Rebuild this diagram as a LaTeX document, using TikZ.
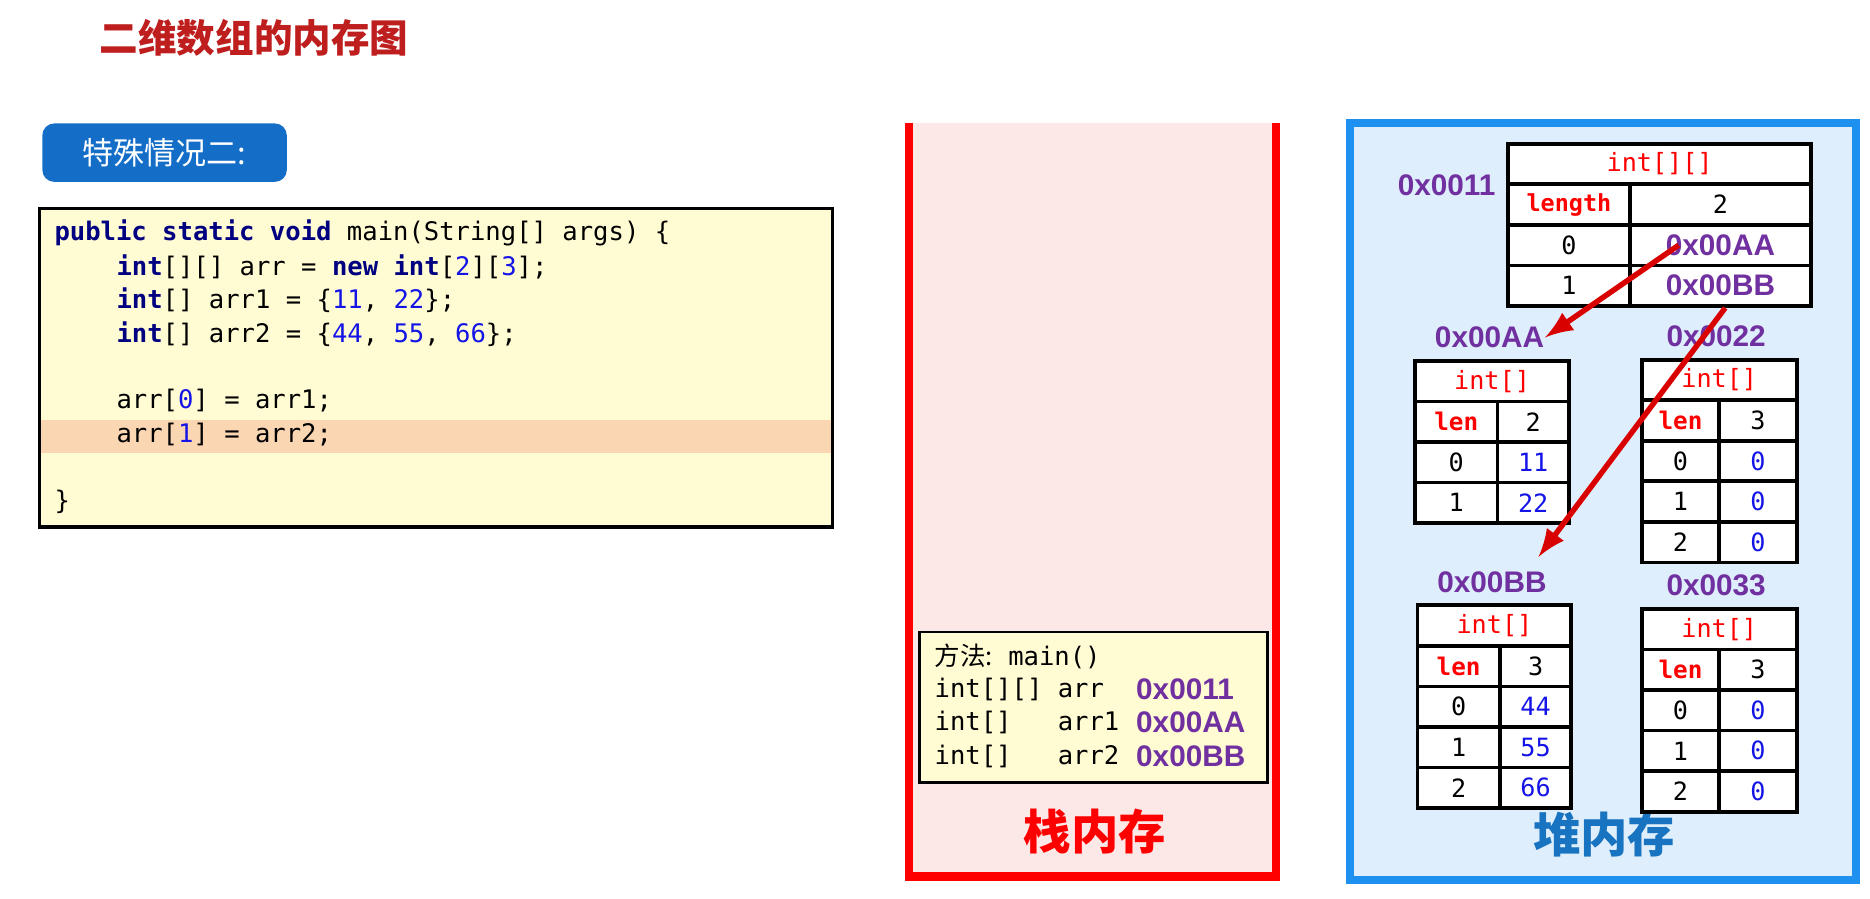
\documentclass[tikz,border=0pt]{standalone}
\usepackage{fontspec}
\setmainfont{Liberation Sans}
\setmonofont{DejaVu Sans Mono}
\newfontfamily\cjk{Noto Sans CJK SC}
\usetikzlibrary{positioning}
\definecolor{kwblue}{RGB}{0,0,128}
\definecolor{numblue}{RGB}{20,20,230}
\definecolor{addr}{RGB}{112,48,160}
\definecolor{darkred}{RGB}{190,30,30}
\definecolor{codebg}{RGB}{255,252,212}
\definecolor{hlbg}{RGB}{250,214,178}
\definecolor{stackbg}{RGB}{253,232,232}
\definecolor{heapbg}{RGB}{223,238,252}
\definecolor{heapline}{RGB}{30,144,240}
\definecolor{tagblue}{RGB}{20,110,200}
\newcommand{\kw}[1]{\textbf{\color{kwblue}#1}}
\newcommand{\nm}[1]{{\color{numblue}#1}}
\tikzset{
  codeline/.style={anchor=west, inner sep=0, font=\fontsize{6.1}{7}\ttfamily},
  cell/.style={draw, line width=0.9pt, fill=white, anchor=north west, inner sep=0,
    minimum height=3.4mm, font=\fontsize{6}{7}\ttfamily},
  addrlabel/.style={font=\fontsize{7.1}{8}\bfseries, text=addr, inner sep=0},
  ref/.style={-latex, red!85!black, line width=1.3pt}
}
\begin{document}
\begin{tikzpicture}[x=0.1mm, y=-0.1mm]
\useasboundingbox (0,0) rectangle (1568,753);
% title
\node (title) at (213,32) {\cjk\fontsize{9.2}{10}\selectfont\bfseries\color{darkred}二维数组的内存图};
\node (tag) [fill=tagblue, rounded corners=1mm, minimum width=20.5mm, minimum height=4.9mm,
  text=white] at (138,128) {\cjk\fontsize{7.4}{8}\selectfont 特殊情况二:};
% code
\fill[codebg] (33,175) rectangle (698,442);
\fill[hlbg] (34,352) rectangle (697,380);
\draw[line width=0.8pt] (33,175) rectangle (698,442);
\node[codeline] (c1) at (45,195) {\kw{public static void} main(String[] args) \{};
\node[codeline] (c2) at (97,224) {\kw{int}[][] arr = \kw{new} \kw{int}[\nm{2}][\nm{3}];};
\node[codeline] (c3) at (97,252) {\kw{int}[] arr1 = \{\nm{11}, \nm{22}\};};
\node[codeline] (c4) at (97,280) {\kw{int}[] arr2 = \{\nm{44}, \nm{55}, \nm{66}\};};
\node[codeline] (c5) at (97,336) {arr[\nm{0}] = arr1;};
\node[codeline] (c6) at (97,364) {arr[\nm{1}] = arr2;};
\node[codeline] (c7) at (45,421) {\}};
% stack
\fill[stackbg] (762,103) rectangle (1070,735);
\draw[red, line width=2pt] (762,103) -- (762,735) -- (1070,735) -- (1070,103);
\node (stack) at (918,697) {\cjk\fontsize{11.3}{12}\selectfont\bfseries\color{red}栈内存};
\draw[fill=codebg, line width=0.6pt] (771,530) rectangle (1063,656);
\node[codeline] (m1) at (783,550) {{\cjk 方法:} main()};
\node[codeline] (m2) at (783,578) {int[][] arr};
\node[codeline] (m3) at (783,606) {int[]\ \ \ arr1};
\node[codeline] (m4) at (783,634) {int[]\ \ \ arr2};
\node[addrlabel, anchor=west] (a1) at (952,578) {0x0011};
\node[addrlabel, anchor=west] (a2) at (952,606) {0x00AA};
\node[addrlabel, anchor=west] (a3) at (952,634) {0x00BB};
% heap
\fill[heapbg] (1132,103) rectangle (1556,738);
\draw[heapline, line width=2pt] (1132,103) rectangle (1556,738);
\node (heap) at (1345,700) {\cjk\fontsize{11.3}{12}\selectfont\bfseries\color{heapline!80!black}堆内存};
% outer array
\node[addrlabel] (l11) at (1213,155) {0x0011};
\node[cell, minimum width=25.4mm, text=red] (t11) at (1263,119) {int[][]};
\node[cell, minimum width=10.2mm, text=red, font=\fontsize{5.6}{7}\ttfamily\bfseries] (t11l) at (1263,153) {length};
\node[cell, minimum width=15.2mm] (t11n) at (1365,153) {2};
\node[cell, minimum width=10.2mm] (t11i0) at (1263,187) {0};
\node[cell, minimum width=15.2mm, addrlabel, draw] (t11v0) at (1365,187) {0x00AA};
\node[cell, minimum width=10.2mm] (t11i1) at (1263,221) {1};
\node[cell, minimum width=15.2mm, addrlabel, draw] (t11v1) at (1365,221) {0x00BB};
% inner arrays
\foreach \nam/\x/\y/\wl/\wr/\vals in {
    AA/1185/301/6.9/6.0/{11,22},
    22/1375/300/6.5/6.5/{0,0,0},
    BB/1187/506/6.9/6.0/{44,55,66},
    33/1375/509/6.5/6.5/{0,0,0}} {
  \node[addrlabel] (l\nam) at (\x+64,\y-18) {0x00\nam};
  \node[cell, minimum width={\wl mm+\wr mm}, text=red] (h\nam) at (\x,\y) {int[]};
  \node[cell, minimum width=\wl mm, text=red, font=\fontsize{5.8}{7}\ttfamily\bfseries] (len\nam) at (\x,\y+34) {len};
  \foreach \v [count=\i from 0] in \vals {
    \node[cell, minimum width=\wl mm] (i\nam\i) at (\x,\y+68+34*\i) {\i};
    \node[cell, minimum width=\wr mm, text=numblue] (v\nam\i) at (\x+10*\wl,\y+68+34*\i) {\v};
    \xdef\cnt{\i}
  }
  \pgfmathtruncatemacro\n{\cnt+1}
  \node[cell, minimum width=\wr mm] (n\nam) at (\x+10*\wl,\y+34) {\n};
}
% references
\draw[ref] ([xshift=-3.5mm]t11v0.center) -- (lAA.east);
\draw[ref] ([xshift=0.4mm]t11v1.south) -- (1290,467);
\end{tikzpicture}
\end{document}
